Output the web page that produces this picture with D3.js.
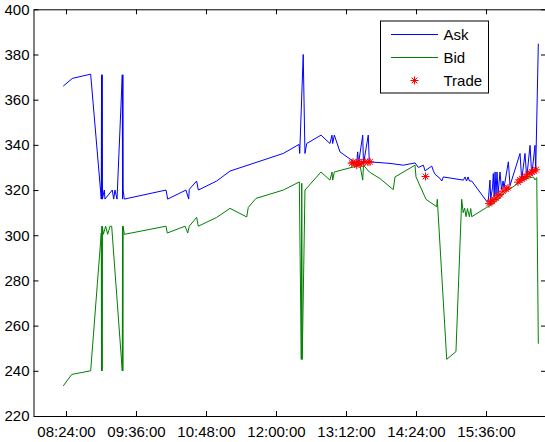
<!DOCTYPE html>
<html>
<head>
<meta charset="utf-8">
<script src="https://cdn.jsdelivr.net/npm/d3@7"></script>
<style>
body { margin: 0; background: #fff; }
text { font-family: "Liberation Sans", Arial, sans-serif; font-size: 15px; fill: #000; }
.axis path, .axis line { stroke: #000; }
</style>
</head>
<body>
<div id="chart"></div>
<script>
// ask quotes
var askTimes = ["08:21:12","08:30:30","08:49:24","09:00:18","09:00:36","09:00:54","09:01:12","09:01:30",
  "09:03:24","09:04:06","09:11:36","09:13:06","09:14:24","09:16:30","09:21:54","09:22:12","09:22:30",
  "09:22:48","09:24:00","10:06:54","10:08:36","10:27:24","10:30:12","10:30:48","10:38:24","10:40:06",
  "10:59:00","11:12:42","12:07:30","12:23:42","12:24:24","12:28:00","12:29:48","12:31:36","12:46:18",
  "12:55:30","12:57:36","12:58:18","13:00:00","13:05:48","13:17:54","13:23:00","13:24:00","13:24:54",
  "13:29:12","13:30:00","13:34:54","13:36:00","13:57:18","14:11:00","14:23:00","14:26:24","14:31:36",
  "14:33:18","14:40:12","14:41:54","14:43:36","14:48:48","14:50:30","14:52:06","15:12:42","15:14:24",
  "15:16:00","15:17:30","15:19:00","15:21:18","15:36:42","15:38:24","15:40:06","15:40:48","15:42:42",
  "15:43:30","15:44:24","15:45:18","15:46:18","15:47:18","15:48:24","15:50:24","15:52:00","15:53:30",
  "15:54:30","15:59:00","16:00:42","16:11:00","16:12:42","16:16:06","16:17:54","16:21:18","16:23:00",
  "16:26:24","16:27:06","16:29:48"];
var askValues = [366,369.4,371.3,316,371,316,371,316,
  320,316,320,316,320,316,371,316,371,
  320,316,320,316,320,316,320.3,324,320,
  324,328.4,336.2,340.2,336.2,380,336.2,340.6,344.3,
  340.6,344.3,340.6,344.3,336.9,333.2,331.8,336.9,331.8,
  344.3,331.5,344.3,332.5,331.8,331,332,330,331,
  328.5,330.6,328.5,327,325.1,324,325.8,324.4,325.8,
  324,325.8,324,324,315,315.5,324.4,316,321,
  327.3,317,328,318,328,318.5,328,320,324,
  321,332.5,322,336.2,324.5,336.2,325.5,339.8,326.5,
  339.8,328,384.8];

// bid quotes
var bidTimes = ["08:21:12","08:29:54","08:49:24","09:00:18","09:00:36","09:00:54","09:01:12","09:01:30",
  "09:02:24","09:04:48","09:06:54","09:09:18","09:11:00","09:21:54","09:22:12","09:22:30","09:22:48",
  "09:24:00","10:06:54","10:08:12","10:26:24","10:29:12","10:30:48","10:38:24","10:40:06","10:59:00",
  "11:12:42","11:29:54","11:31:30","11:39:24","12:07:30","12:24:00","12:26:00","12:26:30","12:27:00","12:29:48",
  "12:46:18","12:55:30","12:57:36","12:58:18","13:00:00","13:26:24","13:29:12","13:30:00","13:36:00",
  "13:46:54","14:00:36","14:02:24","14:23:00","14:24:00","14:34:18","14:45:18","14:45:54","14:55:36",
  "15:05:06","15:11:00","15:12:30","15:14:00","15:15:30","15:16:54","15:18:54","15:20:18","15:21:18",
  "15:36:42","15:43:30","15:50:24","15:57:18","16:00:42","16:11:00","16:17:12","16:24:42","16:26:24",
  "16:28:12","16:29:48"];
var bidValues = [233.3,238.4,240,301,240,304,240,304,
  300.4,304,300.4,304,304,240,304,240,304,
  300.4,304,301,304,301,304,307.9,304,307.9,
  311.9,308.1,312.3,316.3,320,323.6,245,323,245,320,
  328,324.4,328,324.4,328,331,324.4,331,328,
  325.1,320.2,325.8,331,325.8,315.9,312.6,315.9,245.1,
  248.5,315.9,310,312,308.2,311.8,308.2,311.8,308.2,
  312.3,314,316.5,320,320.5,323.6,325,325.8,324.5,
  325.5,252];

// trades
var tradeTimes = ["13:17:54","13:19:12","13:21:18","13:23:00","13:24:42","13:26:24","13:28:12","13:31:36",
  "13:34:36","13:36:42","14:33:48","15:39:00","15:40:36","15:42:12","15:44:12","15:46:18","15:48:18",
  "15:50:24","15:53:30","15:56:36","15:58:36","16:08:54","16:11:00","16:13:00","16:15:06","16:17:12",
  "16:19:12","16:21:18","16:23:18","16:25:24","16:27:30"];
var tradeValues = [331.9,332.3,331.7,331,332.5,331.5,332,332.5,
  332.3,332.5,326,314,314.8,315,315.8,316.5,317.5,
  318,319.5,320.5,321,323.5,324.5,325,325.5,326,
  327,327.5,328,328.5,329];

var xTickLabels = ["08:24:00","09:36:00","10:48:00","12:00:00","13:12:00","14:24:00","15:36:00"];
var yTicks = [220,240,260,280,300,320,340,360,380,400];
var legendLabels = ["Ask","Bid","Trade"];

var w = 545, h = 442;
var parseTime = d3.timeParse("%H:%M:%S");

var svg = d3.select("#chart").append("svg")
  .attr("width", w)
  .attr("height", h);

var x = d3.scaleTime()
  .domain([parseTime("07:50:36"), parseTime("16:37:42")])
  .range([33.5, 546]);
var y = d3.scaleLinear()
  .domain([220, 400])
  .range([416, 9.3]);

function zip(times, values) {
  return times.map(function(t, i){ return { t: parseTime(t), v: values[i] }; });
}
var ask = zip(askTimes, askValues);
var bid = zip(bidTimes, bidValues);
var trades = zip(tradeTimes, tradeValues);

var line = d3.line()
  .x(function(d){ return x(d.t); })
  .y(function(d){ return y(d.v); });

// asterisk marker
function star(r) {
  var d = r * 0.7071;
  return "M" + (-r) + ",0L" + r + ",0M0," + (-r) + "L0," + r +
    "M" + (-d) + "," + (-d) + "L" + d + "," + d + "M" + (-d) + "," + d + "L" + d + "," + (-d);
}

// series
svg.append("path").datum(ask)
  .attr("fill", "none").attr("stroke", "#0000ff").attr("stroke-width", 1)
  .attr("d", line);
svg.append("path").datum(bid)
  .attr("fill", "none").attr("stroke", "#008000").attr("stroke-width", 1)
  .attr("d", line);
svg.append("g").selectAll("path")
  .data(trades).enter()
  .append("path")
  .attr("transform", function(d){ return "translate(" + x(d.t) + "," + y(d.v) + ")"; })
  .attr("d", star(4))
  .attr("fill", "none").attr("stroke", "#ff0000").attr("stroke-width", 1);

// axes (ticks point inward, box on)
var xTickVals = xTickLabels.map(parseTime);
var fmt = d3.timeFormat("%H:%M:%S");

svg.append("g").attr("class", "axis")
  .attr("transform", "translate(0,416)")
  .call(d3.axisBottom(x).tickValues(xTickVals).tickFormat(fmt)
    .tickSizeInner(-5).tickSizeOuter(0).tickPadding(10));
svg.append("g").attr("class", "axis")
  .attr("transform", "translate(0,9.3)")
  .call(d3.axisTop(x).tickValues(xTickVals).tickFormat("")
    .tickSizeInner(-5).tickSizeOuter(0));
svg.append("g").attr("class", "axis")
  .attr("transform", "translate(33.5,0)")
  .call(d3.axisLeft(y).tickValues(yTicks)
    .tickSizeInner(-5).tickSizeOuter(0).tickPadding(4));
svg.append("g").attr("class", "axis")
  .attr("transform", "translate(546,0)")
  .call(d3.axisRight(y).tickValues(yTicks).tickFormat("")
    .tickSizeInner(-5).tickSizeOuter(0));
svg.selectAll(".axis text").style("font-size", "15px").style("font-family", "'Liberation Sans', Arial, sans-serif");

// legend
var legend = svg.append("g").attr("transform", "translate(380.5,21)");
legend.append("rect")
  .attr("width", 108).attr("height", 72)
  .attr("fill", "#fff").attr("stroke", "#000").attr("stroke-width", 1);
var colors = ["#0000ff", "#008000", "#ff0000"];
legendLabels.forEach(function(lbl, i) {
  var ly = 13.5 + i * 23;
  if (i < 2) {
    legend.append("line")
      .attr("x1", 10.5).attr("x2", 57.5).attr("y1", ly).attr("y2", ly)
      .attr("stroke", colors[i]).attr("stroke-width", 1);
  } else {
    legend.append("path")
      .attr("transform", "translate(34," + ly + ")")
      .attr("d", star(4))
      .attr("fill", "none").attr("stroke", colors[i]).attr("stroke-width", 1);
  }
  legend.append("text")
    .attr("x", 63).attr("y", ly).attr("dy", "0.35em")
    .text(lbl);
});
</script>
</body>
</html>
